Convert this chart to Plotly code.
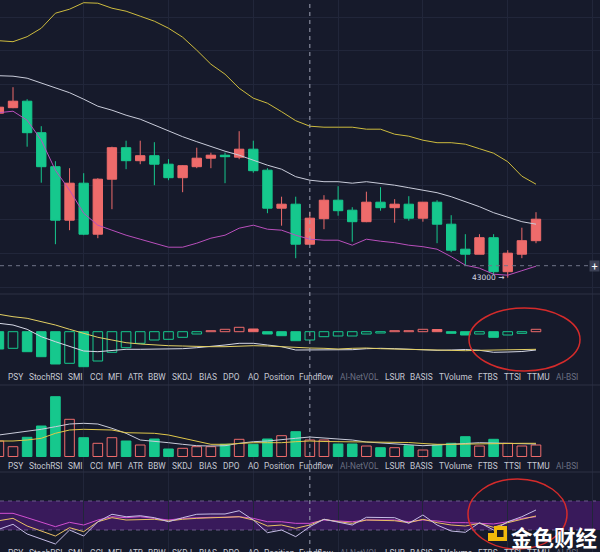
import plotly.graph_objects as go
from plotly.subplots import make_subplots

W, H = 600, 552
BG = "#161a2b"
GRID = "#21263a"
RED = "#ee6b6b"
GREEN = "#16c88d"

# ---------------- data ----------------
idx = list(range(39))
opens = [46290, 46400, 46530, 45900, 45220, 44150, 44890, 43870, 44970, 45600,
         45340, 45440, 45270, 45000, 45220, 45390, 45450, 45410, 45570, 45150,
         44390, 44470, 43670, 44180, 44550, 44350, 44120, 44510, 44400, 44470,
         44190, 44510, 44070, 43570, 43470, 43800, 43120, 43470, 43740]
highs = [46450, 46810, 46570, 46030, 45330, 45190, 45090, 44990, 45620, 45740,
         45740, 45710, 45370, 45250, 45600, 45500, 45500, 45930, 45740, 45190,
         44620, 44620, 44320, 44650, 44830, 44410, 44720, 44810, 44570, 44630,
         44510, 44550, 44250, 43870, 43870, 43870, 43550, 44000, 44310]
lows = [46260, 46390, 45620, 44900, 43670, 43950, 43850, 43790, 44370, 45170,
        45270, 44850, 44950, 44710, 45190, 45190, 44890, 45370, 45100, 44290,
        44040, 43390, 43670, 43970, 44240, 43720, 44110, 44340, 44100, 44140,
        44120, 43690, 43510, 43250, 43470, 43050, 43000, 43390, 43690]
closes = [46410, 46530, 45900, 45220, 44150, 44890, 43870, 44970, 45600, 45340,
          45440, 45270, 45000, 45240, 45390, 45450, 45420, 45570, 45140, 44390,
          44470, 43670, 44190, 44550, 44340, 44120, 44510, 44400, 44470, 44190,
          44510, 44070, 43550, 43470, 43800, 43120, 43490, 43740, 44170]

boll_up = [47740, 47720, 47820, 47990, 48290, 48370, 48500, 48490, 48390, 48330,
           48230, 48130, 47990, 47810, 47550, 47270, 47070, 46790, 46590, 46490,
           46320, 46140, 46030, 46010, 46010, 46010, 45970, 45970, 45870, 45830,
           45750, 45700, 45700, 45670, 45580, 45490, 45320, 45030, 44870]
boll_mid = [47040, 47030, 46990, 46890, 46790, 46700, 46570, 46430, 46350, 46250,
            46170, 46050, 45930, 45820, 45720, 45620, 45530, 45450, 45350, 45250,
            45170, 45020, 44950, 44920, 44920, 44890, 44920, 44890, 44850, 44800,
            44750, 44700, 44620, 44520, 44420, 44300, 44210, 44120, 44070]
boll_dn = [46300, 46330, 46150, 45750, 45150, 44750, 44290, 44050, 43950, 43850,
           43770, 43690, 43610, 43610, 43690, 43790, 43850, 43990, 44050, 43970,
           43950, 43850, 43770, 43750, 43750, 43650, 43770, 43730, 43700, 43650,
           43620, 43570, 43420, 43250, 43190, 43070, 43050, 43140, 43230]

macd_hist = [-173, -166, -200, -250, -323, -316, -350, -293, -206, -160,
             -116, -83, -76, -56, -23, 10, 24, 44, 27, -23,
             -40, -90, -83, -50, -43, -43, -23, -13, 10, 10,
             24, 22, -16, -33, -23, -56, -33, -16, 24]
macd_dea = [174, 150, 134, 100, 67, 24, -16, -56, -83, -110,
            -123, -133, -140, -143, -150, -150, -150, -143, -140, -143,
            -150, -160, -163, -166, -173, -166, -163, -170, -173, -176,
            -183, -183, -186, -190, -186, -183, -180, -176, -176]
macd_dif = [84, 67, 24, -50, -100, -150, -193, -200, -190, -176,
            -176, -176, -173, -170, -160, -150, -133, -116, -116, -133,
            -150, -183, -183, -183, -183, -180, -170, -166, -170, -176,
            -183, -186, -183, -178, -186, -206, -203, -198, -183]

volume = [15500, 9800, 19200, 30500, 59800, 37200, 18800, 13200, 18800, 15500,
          11500, 17500, 7500, 8200, 9800, 9800, 12200, 17200, 12200, 17500,
          20800, 24800, 16500, 16500, 12500, 12500, 10500, 8800, 8800, 10800,
          6500, 11500, 13200, 19800, 10500, 17200, 13200, 10500, 11500]
vol_ma5 = [21500, 23200, 24800, 27200, 29800, 32500, 33200, 32500, 28200, 23200,
           16500, 15500, 13800, 12200, 10800, 10500, 10800, 13200, 14800, 15500,
           17200, 18200, 19500, 18500, 17500, 16500, 14500, 13500, 12500, 11500,
           10800, 11500, 12000, 13000, 13800, 13500, 13200, 13200, 12500]
vol_ma10 = [15500, 15500, 16500, 18200, 23200, 26500, 27200, 27200, 26500, 23800,
            23200, 23200, 21500, 18200, 15500, 12200, 12200, 13200, 13800, 13800,
            13800, 14800, 15500, 15000, 14800, 14800, 14800, 14500, 14200, 14000,
            13000, 12200, 12200, 12500, 12500, 13000, 13200, 13200, 13200]

osc_a = [53.0, 53.0, 47.0, 40.6, 34.6, 40.6, 36.9, 43.8, 48.3, 47.0,
         48.3, 46.1, 43.8, 46.1, 47.0, 47.5, 47.5, 48.3, 46.1, 41.4,
         41.4, 39.2, 39.2, 43.8, 42.4, 41.4, 43.8, 43.8, 43.8, 41.4,
         43.8, 42.4, 40.1, 40.1, 39.2, 38.3, 41.4, 46.1, 48.3]
osc_b = [42.8, 46.1, 35.5, 28.6, 21.7, 33.2, 27.7, 41.4, 47.0, 43.8,
         43.8, 44.8, 42.4, 44.8, 46.1, 47.0, 47.5, 48.3, 43.8, 35.5,
         36.9, 32.3, 36.9, 44.8, 41.4, 39.2, 43.8, 43.8, 42.8, 40.1,
         44.8, 40.1, 36.9, 35.5, 39.2, 33.7, 40.1, 44.8, 49.3]
osc_c = [31.0, 37.9, 24.5, 17.6, 10.7, 30.0, 21.7, 41.4, 51.7, 48.3,
         49.7, 47.0, 41.4, 47.0, 51.7, 52.1, 52.1, 56.6, 43.8, 26.3,
         30.0, 20.8, 34.6, 44.8, 40.6, 36.9, 47.5, 47.0, 47.0, 39.2,
         50.7, 36.9, 28.6, 26.8, 40.1, 30.0, 41.4, 48.3, 57.6]
osc_band = [30, 70]

crosshair_index = 22
crosshair_price = 43240
low_label = "43000 →"

tab_labels = ["VOL", "PSY", "StochRSI", "SMI", "CCI", "MFI", "ATR", "BBW", "SKDJ",
              "BIAS", "DPO", "AO", "Position", "Fundflow", "AI-NetVOL", "LSUR",
              "BASIS", "TVolume", "FTBS", "TTSI", "TTMU", "AI-BSI"]
tab_dim = {"AI-NetVOL", "AI-BSI"}
tab_x = [-14, 15, 45.5, 75, 96, 115, 135.5, 157, 182.5, 208.5, 231.5, 253,
         279.5, 316.5, 359, 394.5, 421.5, 456, 487.5, 512, 538, 567]
tab_rows_y = [377, 466, 552.5]


def px(x):
    return x / W


def py(y):
    return 1 - y / H


# ---------------- figure ----------------
fig = make_subplots(rows=4, cols=1, shared_xaxes=True, vertical_spacing=0)

fig.add_trace(go.Candlestick(
    x=idx, open=opens, high=highs, low=lows, close=closes,
    increasing=dict(line=dict(color=RED, width=1), fillcolor=RED),
    decreasing=dict(line=dict(color=GREEN, width=1), fillcolor=GREEN),
    whiskerwidth=0, hoverinfo="skip"), row=1, col=1)

for ys, c in [(boll_up, "#cdbb3e"), (boll_mid, "#c9ccda"), (boll_dn, "#b94fbc")]:
    fig.add_trace(go.Scatter(x=idx, y=ys, mode="lines",
                             line=dict(color=c, width=1), hoverinfo="skip"),
                  row=1, col=1)

# MACD histogram
m_fill, m_line = [], []
for i, v in enumerate(macd_hist):
    col = GREEN if v < 0 else RED
    filled = True if i == 0 else v < macd_hist[i - 1]
    m_fill.append(col if filled else "rgba(0,0,0,0)")
    m_line.append(col)
fig.add_trace(go.Bar(x=idx, y=macd_hist, width=0.68,
                     marker=dict(color=m_fill, line=dict(color=m_line, width=1)),
                     hoverinfo="skip"), row=2, col=1)
fig.add_trace(go.Scatter(x=idx, y=macd_dif, mode="lines",
                         line=dict(color="#d6d8e6", width=1), hoverinfo="skip"),
              row=2, col=1)
fig.add_trace(go.Scatter(x=idx, y=macd_dea, mode="lines",
                         line=dict(color="#e3cf63", width=1), hoverinfo="skip"),
              row=2, col=1)

# Volume
v_fill, v_line = [], []
for o, c in zip(opens, closes):
    if c >= o:
        v_fill.append("rgba(0,0,0,0)")
        v_line.append(RED)
    else:
        v_fill.append(GREEN)
        v_line.append(GREEN)
fig.add_trace(go.Bar(x=idx, y=volume, width=0.68,
                     marker=dict(color=v_fill, line=dict(color=v_line, width=1)),
                     hoverinfo="skip"), row=3, col=1)
fig.add_trace(go.Scatter(x=idx, y=vol_ma5, mode="lines",
                         line=dict(color="#c9ccda", width=1), hoverinfo="skip"),
              row=3, col=1)
fig.add_trace(go.Scatter(x=idx, y=vol_ma10, mode="lines",
                         line=dict(color="#e0c84a", width=1), hoverinfo="skip"),
              row=3, col=1)

# Oscillator
for ys, c in [(osc_a, "#d04fd0"), (osc_b, "#e8c063"), (osc_c, "#c6bde6")]:
    fig.add_trace(go.Scatter(x=idx, y=ys, mode="lines",
                             line=dict(color=c, width=1), hoverinfo="skip"),
                  row=4, col=1)

# ---------------- axes ----------------
xr = [1.13 / 14.135, 601.13 / 14.135]
fig.update_xaxes(range=xr, showticklabels=False, ticks="", showgrid=True,
                 gridcolor=GRID, gridwidth=1, tick0=0, dtick=6, zeroline=False,
                 showline=False, rangeslider_visible=False, fixedrange=True)

doms = [(py(294), py(0)), (py(385), py(294)), (py(472), py(385)), (0, py(472))]
ranges = [[42674, 48554], [-533, 377], [-15500, 71500], [-0.34, 110]]
for i, (d, r) in enumerate(zip(doms, ranges)):
    name = "yaxis" if i == 0 else f"yaxis{i + 1}"
    fig.layout[name].update(domain=list(d), range=r, showticklabels=False,
                            ticks="", zeroline=False, showline=False,
                            showgrid=(i == 0), gridcolor=GRID,
                            tick0=48214, dtick=675, fixedrange=True)

# ---------------- shapes ----------------
shapes = []
for yy in (294, 385, 472):
    shapes.append(dict(type="line", xref="paper", yref="paper", x0=0, x1=1,
                       y0=py(yy), y1=py(yy), line=dict(color="#2c3145", width=1)))
# oscillator band
shapes.append(dict(type="rect", xref="paper", yref="y4", x0=0, x1=1,
                   y0=osc_band[0], y1=osc_band[1], fillcolor="#391a5b",
                   line=dict(width=0), layer="between"))
for b in osc_band:
    shapes.append(dict(type="line", xref="paper", yref="y4", x0=0, x1=1,
                       y0=b, y1=b, line=dict(color="#6d5a8c", width=1, dash="4px,4px"),
                       layer="between"))
# crosshair
shapes.append(dict(type="line", xref="x", yref="paper", x0=crosshair_index,
                   x1=crosshair_index, y0=0, y1=1,
                   line=dict(color="#9da1b3", width=1, dash="4px,4px")))
shapes.append(dict(type="line", xref="paper", yref="y", x0=0, x1=1,
                   y0=crosshair_price, y1=crosshair_price,
                   line=dict(color="#6f7488", width=1, dash="4px,4px")))
# red ellipses
shapes.append(dict(type="circle", xref="paper", yref="paper",
                   x0=px(469), x1=px(580), y0=py(371), y1=py(308),
                   line=dict(color="#d42b2b", width=1.5)))
shapes.append(dict(type="circle", xref="paper", yref="paper",
                   x0=px(468), x1=px(567), y0=py(549), y1=py(479),
                   line=dict(color="#d42b2b", width=1.5)))
# watermark logo
shapes.append(dict(type="rect", xref="paper", yref="paper", x0=px(494), x1=px(507),
                   y0=py(541), y1=py(526), fillcolor="#f0b90b", line=dict(width=0)))
shapes.append(dict(type="rect", xref="paper", yref="paper", x0=px(488), x1=px(494),
                   y0=py(541), y1=py(533), fillcolor="#f0b90b", line=dict(width=0)))
shapes.append(dict(type="rect", xref="paper", yref="paper", x0=px(497), x1=px(503.5),
                   y0=py(537), y1=py(530), fillcolor="#1a1a22", line=dict(width=0)))

# ---------------- annotations ----------------
ann = []
for ry in tab_rows_y:
    for name, x in zip(tab_labels, tab_x):
        ann.append(dict(xref="paper", yref="paper", x=px(x), y=py(ry),
                        xanchor="center", yanchor="middle", showarrow=False,
                        text=name, font=dict(family="Roboto", size=8.3,
                                             color="#6b7082" if name in tab_dim else "#c6c9d4")))
low_i = lows.index(min(lows))
ann.append(dict(xref="x", yref="y", x=low_i, y=min(lows),
                xanchor="right", yanchor="middle", xshift=-1,
                showarrow=False, text=low_label,
                font=dict(family="DejaVu Sans, Roboto", size=7.5, color="#d6d8e2")))
ann.append(dict(xref="paper", yref="y", x=1, y=crosshair_price, xanchor="right",
                yanchor="middle", showarrow=False, text="+", bgcolor="#3b4055",
                width=9, height=10, borderpad=0,
                font=dict(family="Roboto", size=11, color="#ffffff")))
ann.append(dict(xref="paper", yref="paper", x=px(554), y=py(536),
                xanchor="center", yanchor="middle", showarrow=False,
                text="<b>金色财经</b>",
                font=dict(family="Noto Sans CJK SC", size=21.5, color="#ffffff")))

fig.update_layout(
    width=W, height=H, margin=dict(l=0, r=0, t=0, b=0),
    paper_bgcolor=BG, plot_bgcolor=BG, showlegend=False,
    shapes=shapes, annotations=ann, bargap=0.3, boxgap=0.2, boxgroupgap=0.17,
    hovermode=False)

fig.write_html("out.html")
